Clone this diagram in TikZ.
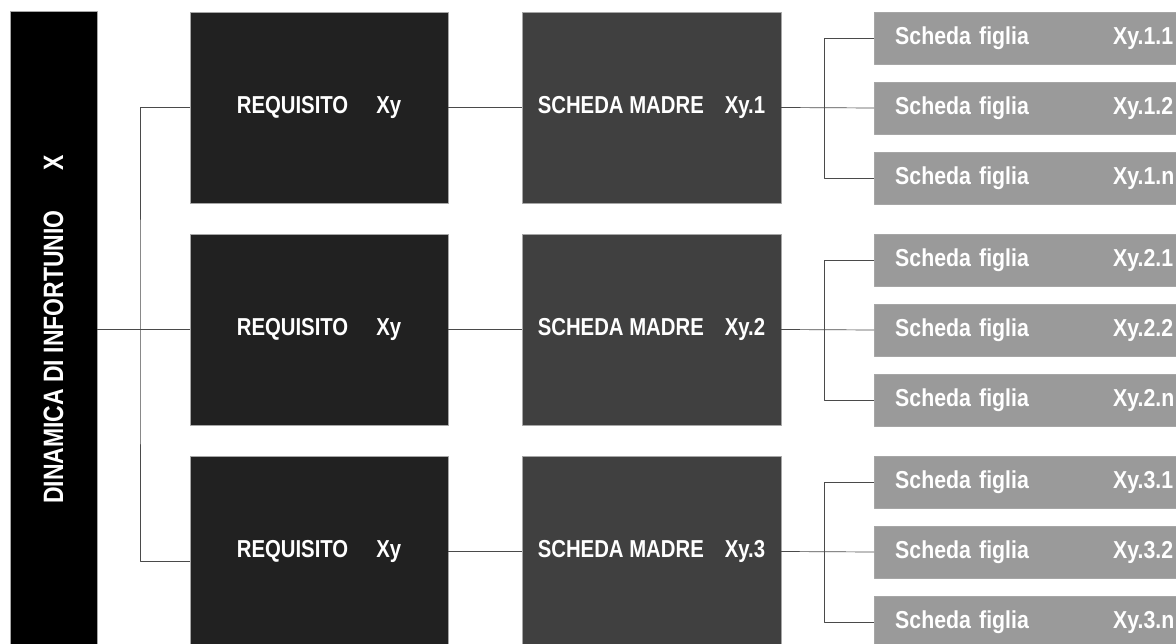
\documentclass[tikz,border=0pt]{standalone}
\usepackage{fontspec}
\newfontfamily\condfont{Liberation Sans}[FakeStretch=0.83]
\newfontfamily\figfont{Liberation Sans}[FakeStretch=0.87]
\newfontfamily\barfont{Liberation Sans}[FakeStretch=0.82]
\usetikzlibrary{calc,positioning}

\definecolor{bargray}{HTML}{000000}
\definecolor{reqgray}{HTML}{212121}
\definecolor{madgray}{HTML}{404040}
\definecolor{figgray}{HTML}{9A9A9A}
\definecolor{linkgray}{HTML}{4A4A4A}

\begin{document}
\begin{tikzpicture}[x=1pt, y=-1pt, line join=round,
    box/.style={draw=gray!70, line width=0.4pt, text=white, inner sep=0pt,
      font=\condfont\bfseries\fontsize{24.5}{27}\selectfont},
    barbox/.style={box, fill=bargray, minimum width=636pt, minimum height=87pt,
      font=\barfont\bfseries\fontsize{28}{32}\selectfont},
    reqbox/.style={box, fill=reqgray, minimum width=258pt, minimum height=191pt},
    madbox/.style={box, fill=madgray, minimum width=259pt, minimum height=191pt},
    figbox/.style={box, fill=figgray, minimum height=52pt, inner xsep=21pt,
      text width=309pt, align=left, font=\figfont\bfseries\fontsize{24.5}{27}\selectfont},
    link/.style={draw=linkgray, line width=0.7pt}]
  \useasboundingbox (0,0) rectangle (1176,644);

  \node[barbox, rotate=90] (bar) at (53.5,329.5) {DINAMICA DI INFORTUNIO\hspace{40pt}X};

  \foreach \r/\yc in {1/107.5, 2/329.5, 3/551.5} {
    \node[reqbox] (req\r) at (319,\yc) {REQUISITO\hspace{28pt}Xy};
    \node[madbox] (mad\r) at (651.5,\yc) {SCHEDA MADRE\hspace{21pt}Xy.\r};
    \foreach \k/\lab in {1/1, 2/2, 3/n}
      \node[figbox, anchor=west] (fig\r\k) at (874,{\yc-139.5+70*\k})
        {\makebox[218pt][l]{Scheda figlia}Xy.\r.\lab};
  }

  % links
  \coordinate (split) at (140,329.5);
  \draw[link] (bar.south) -- (req2.west);
  \draw[link] (req1.west) -| (split) |- ([yshift=-10pt]req3.west);
  \foreach \r in {1,2,3} {
    \coordinate (fork\r) at ($(mad\r.east)!0.47!(fig\r2.west)$);
    \draw[link] (req\r.east) -- (mad\r.west);
    \draw[link] (mad\r.east) -- (fig\r2.west);
    \draw[link] (fig\r1.west) -| (fork\r) |- (fig\r3.west);
  }
\end{tikzpicture}
\end{document}
